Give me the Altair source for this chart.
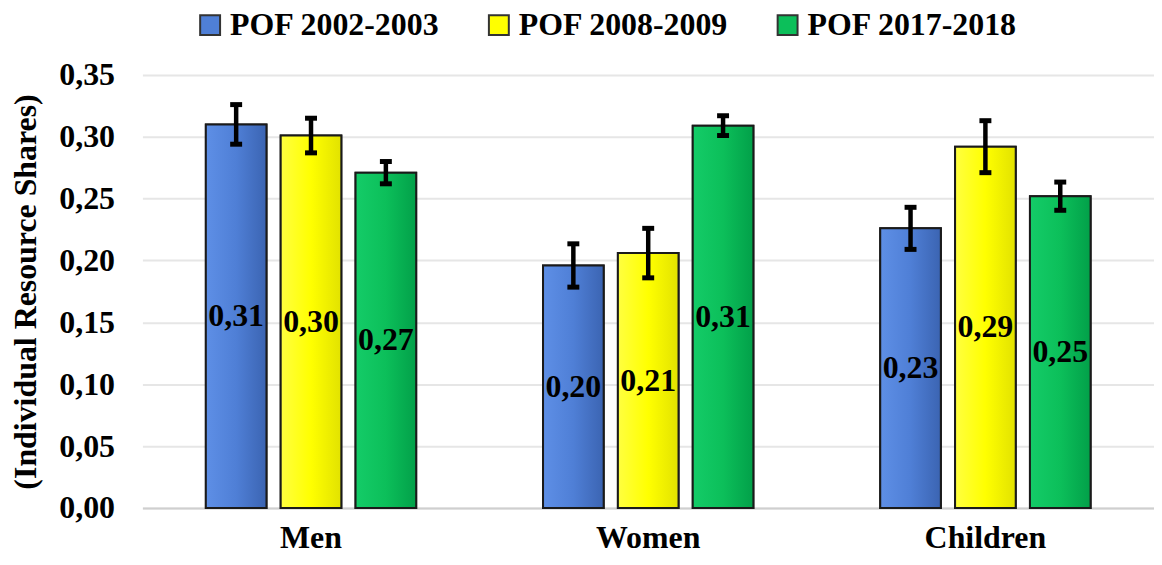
import altair as alt
import pandas as pd

categories = ["Men", "Women", "Children"]
series = ["POF 2002-2003", "POF 2008-2009", "POF 2017-2018"]
values_2002 = [0.310, 0.196, 0.226]
values_2008 = [0.301, 0.206, 0.292]
values_2017 = [0.271, 0.309, 0.252]
errors_2002 = [0.016, 0.0175, 0.017]
errors_2008 = [0.014, 0.020, 0.021]
errors_2017 = [0.009, 0.008, 0.0114]
colors = ["#4F7FD6", "#FFFF00", "#0CBF5A"]
gradients = [["#5E8FE6", "#4F7FD6", "#3B64B2"],
             ["#FFFF40", "#FFFF00", "#E2E200"],
             ["#14CC68", "#0CBF5A", "#02A049"]]

rows = []
for s, vals, errs in zip(series, [values_2002, values_2008, values_2017],
                         [errors_2002, errors_2008, errors_2017]):
    for c, v, e in zip(categories, vals, errs):
        rows.append({"group": c, "series": s, "value": v, "err": e})
df = pd.DataFrame(rows)

FONT = "Liberation Serif"
FS = 32

base = alt.Chart(df).transform_calculate(
    lo="datum.value - datum.err",
    hi="datum.value + datum.err",
    mid="datum.value / 2",
    label="replace(format(datum.value, '.2f'), '.', ',')",
).encode(
    x=alt.X("group:N", sort=categories,
            scale=alt.Scale(paddingInner=0.334, paddingOuter=0.167),
            axis=alt.Axis(title=None, labelFont=FONT, labelFontWeight="bold",
                          labelFontSize=FS, labelColor="black", labelAngle=0,
                          labelPadding=15, ticks=False, domainColor="#cfcfcf",
                          domainWidth=2)),
    xOffset=alt.XOffset("series:N", sort=series,
                        scale=alt.Scale(paddingInner=0.19, paddingOuter=0.095)),
)

yscale = alt.Scale(domain=[0, 0.35], nice=False)

bars = base.mark_bar(stroke="#1a1a1a", strokeWidth=2).encode(
    y=alt.Y("value:Q", scale=yscale,
            axis=alt.Axis(title="(Individual Resource Shares)",
                          values=[0, 0.05, 0.1, 0.15, 0.2, 0.25, 0.3, 0.35],
                          labelExpr="replace(format(datum.value, '.2f'), '.', ',')",
                          labelFont=FONT, labelFontWeight="bold", labelFontSize=FS,
                          labelColor="black", labelPadding=28, ticks=False, domain=False,
                          titleFont=FONT, titleFontWeight="bold", titleFontSize=32,
                          titleColor="black", titlePadding=16,
                          gridColor="#e6e6e6", gridWidth=2)),
    color=alt.Color("series:N", sort=series,
                    scale=alt.Scale(domain=series, range=colors),
                    legend=alt.Legend(title=None, orient="none", direction="horizontal",
                                      legendX=52, legendY=-66,
                                      symbolType="square", symbolSize=400,
                                      symbolStrokeColor="#333333", symbolStrokeWidth=2,
                                      labelFont=FONT, labelFontWeight="bold",
                                      labelFontSize=FS, labelColor="black", labelLimit=0,
                                      labelOffset=4, columnPadding=43)),
)

grad_layers = []
for s, g in zip(series, gradients):
    grad_layers.append(
        base.transform_filter(alt.datum.series == s).mark_bar(
            stroke="#1a1a1a", strokeWidth=2,
            color=alt.Gradient(gradient="linear", x1=0, x2=1, y1=0, y2=0,
                               stops=[alt.GradientStop(color=g[0], offset=0),
                                      alt.GradientStop(color=g[1], offset=0.5),
                                      alt.GradientStop(color=g[2], offset=1)])
        ).encode(y=alt.Y("value:Q", scale=yscale))
    )

rules = base.mark_rule(color="black", strokeWidth=4.5).encode(y="lo:Q", y2="hi:Q")
caps_lo = base.mark_tick(color="black", thickness=5, size=12, opacity=1).encode(y="lo:Q")
caps_hi = base.mark_tick(color="black", thickness=5, size=12, opacity=1).encode(y="hi:Q")

labels = base.mark_text(font=FONT, fontWeight="bold", fontSize=FS, color="black",
                        baseline="middle").encode(y="mid:Q", text="label:N")

chart = alt.layer(bars, *grad_layers, rules, caps_lo, caps_hi, labels).properties(
    width=1016, height=435,
    autosize=alt.AutoSizeParams(type="none"),
    padding={"left": 135, "top": 66, "right": 0, "bottom": 48},
).configure_view(stroke=None)

chart.save("out.html", embed_options={"renderer": "svg", "actions": False})
